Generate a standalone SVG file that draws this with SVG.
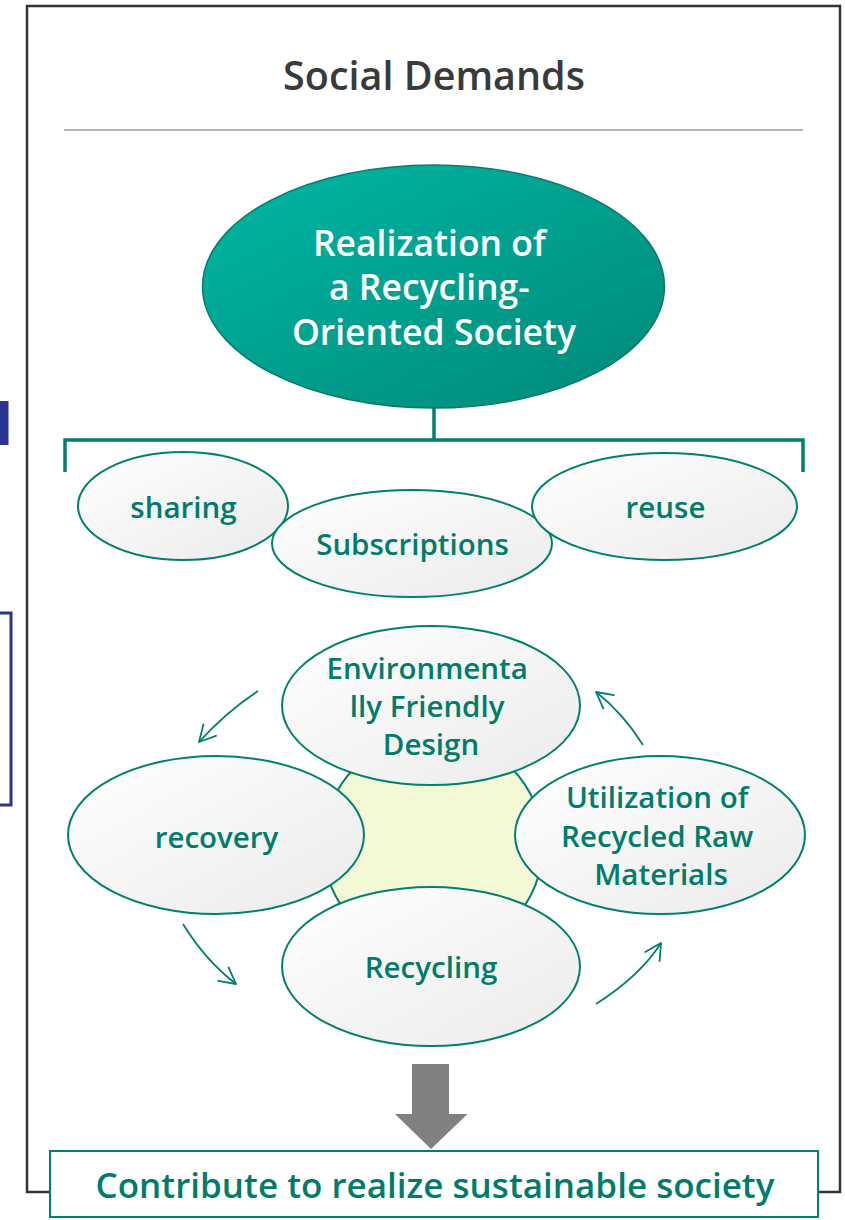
<svg xmlns="http://www.w3.org/2000/svg" width="845" height="1220" viewBox="0 0 845 1220">
  <defs>
    <linearGradient id="gMain" x1="0" y1="0" x2="1" y2="1">
      <stop offset="0" stop-color="#00b8a5"/>
      <stop offset="1" stop-color="#008878"/>
    </linearGradient>
    <linearGradient id="gNode" x1="0" y1="0" x2="1" y2="1">
      <stop offset="0" stop-color="#ffffff"/>
      <stop offset="1" stop-color="#ebebeb"/>
    </linearGradient>
    <marker id="arr" markerUnits="userSpaceOnUse" markerWidth="40" markerHeight="40" refX="0" refY="0" orient="auto" overflow="visible">
      <path d="M-16,-8.5 L0,0 L-16,8.5" fill="none" stroke="#00806e" stroke-width="1.8" stroke-linecap="round" stroke-linejoin="round"/>
    </marker>
    <style>
      .node { fill: url(#gNode); stroke: #00806e; stroke-width: 2; }
      .lbl { font-family: "Open Sans", "Liberation Sans", sans-serif; font-weight: 600; fill: #007c6a; text-anchor: middle; }
      .conn { fill: none; stroke: #00806e; stroke-width: 1.8; marker-end: url(#arr); }
    </style>
  </defs>

  <rect width="845" height="1220" fill="#ffffff"/>

  <!-- cut-off fragments at left edge -->
  <rect x="0" y="401" width="8.5" height="44" fill="#283593"/>
  <rect x="-4" y="613" width="15" height="192" fill="none" stroke="#283593" stroke-width="3"/>

  <!-- outer frame -->
  <path d="M50,1192 H27 V6 H840 V1192 H818" fill="none" stroke="#333333" stroke-width="2.5"/>

  <g id="title">
    <text x="434" y="90" font-family="'Open Sans', 'Liberation Sans', sans-serif" font-weight="600" font-size="39.5" fill="#3a3a3a" text-anchor="middle">Social Demands</text>
    <line x1="64" y1="130" x2="803" y2="130" stroke="#9a9a9a" stroke-width="1.5"/>
  </g>

  <g id="connectors">
    <path d="M434,408 V440 M65,472 V440 H803 V472" fill="none" stroke="#00806e" stroke-width="3.5"/>
    <path class="conn" d="M258,691 Q226,712 199,742"/>
    <path class="conn" d="M643,745 Q623,713 596,692"/>
    <path class="conn" d="M183,924 Q205,960 236,984"/>
    <path class="conn" d="M596,1004 Q640,976 661,943"/>
  </g>

  <g id="main">
    <ellipse cx="433.5" cy="286.5" rx="231" ry="121.5" fill="url(#gMain)" stroke="#0b7a6b" stroke-width="1.5"/>
    <text font-family="'Open Sans', 'Liberation Sans', sans-serif" font-weight="600" font-size="35.5" fill="#ffffff" text-anchor="middle">
      <tspan x="434" y="256">Realization of</tspan>
      <tspan x="434" y="300">a Recycling-</tspan>
      <tspan x="434" y="345">Oriented Society</tspan>
    </text>
  </g>

  <g id="sharing">
    <ellipse class="node" cx="183" cy="506" rx="105" ry="54"/>
    <text class="lbl" x="183.5" y="518" font-size="29.5">sharing</text>
  </g>
  <g id="subscriptions">
    <ellipse class="node" cx="412" cy="543.5" rx="140" ry="53.5"/>
    <text class="lbl" x="412.5" y="555" font-size="29.5">Subscriptions</text>
  </g>
  <g id="reuse">
    <ellipse class="node" cx="664.5" cy="506.5" rx="132.5" ry="53.5"/>
    <text class="lbl" x="665.5" y="518" font-size="29.5">reuse</text>
  </g>

  <g id="center">
    <circle cx="433" cy="845" r="110" fill="#f3f8d5" stroke="#00806e" stroke-width="2"/>
  </g>

  <g id="design">
    <ellipse class="node" cx="431" cy="705.5" rx="149" ry="79.5"/>
    <text class="lbl" font-size="29.5">
      <tspan x="431" y="679">Environmenta</tspan>
      <tspan x="431" y="717">lly Friendly</tspan>
      <tspan x="431" y="755">Design</tspan>
    </text>
  </g>
  <g id="recovery">
    <ellipse class="node" cx="216" cy="835" rx="148" ry="79"/>
    <text class="lbl" x="216.5" y="848" font-size="29.5">recovery</text>
  </g>
  <g id="utilization">
    <ellipse class="node" cx="660" cy="835" rx="145" ry="79"/>
    <text class="lbl" font-size="29.5">
      <tspan x="661" y="808">Utilization of</tspan>
      <tspan x="661" y="847">Recycled Raw</tspan>
      <tspan x="661" y="885">Materials</tspan>
    </text>
  </g>
  <g id="recycling">
    <ellipse class="node" cx="431" cy="966.5" rx="149" ry="79.5"/>
    <text class="lbl" x="431" y="978" font-size="29.5">Recycling</text>
  </g>

  <g id="bigarrow">
    <path d="M412,1064 H449 V1114 H467.5 L431,1149 L395,1114 H412 Z" fill="#808080"/>
  </g>

  <g id="result">
    <rect x="50" y="1151" width="768" height="66" fill="#ffffff" stroke="#00806e" stroke-width="2"/>
    <text class="lbl" x="435" y="1198" font-size="35">Contribute to realize sustainable society</text>
  </g>
</svg>
